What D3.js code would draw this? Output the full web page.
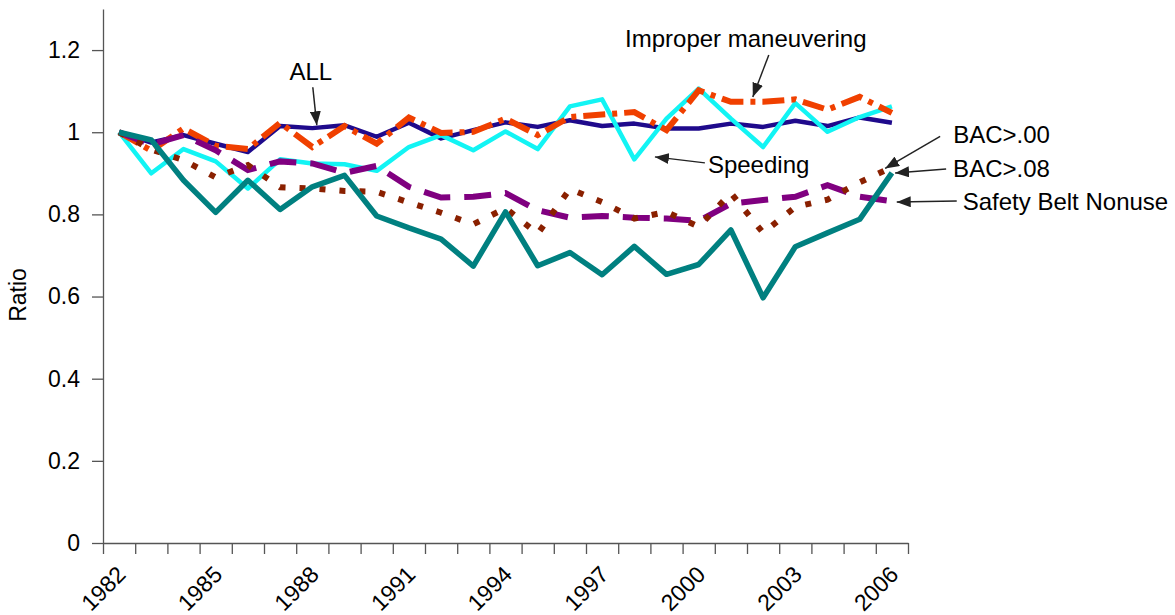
<!DOCTYPE html>
<html>
<head>
<meta charset="utf-8">
<script src="https://cdnjs.cloudflare.com/ajax/libs/d3/7.8.5/d3.min.js"></script>
<style>
  body { margin: 0; background: #fff; }
  text { font-family: "Liberation Sans", Arial, sans-serif; fill: #000; }
</style>
</head>
<body>
<div id="svg"></div>
<script>
// values
const years = [1982, 1983, 1984, 1985, 1986, 1987, 1988, 1989, 1990, 1991, 1992, 1993,
  1994, 1995, 1996, 1997, 1998, 1999, 2000, 2001, 2002, 2003, 2004, 2005, 2006];
const yearLabels = [1982, 1985, 1988, 1991, 1994, 1997, 2000, 2003, 2006];
const ratioTicks = [0, 0.2, 0.4, 0.6, 0.8, 1, 1.2];

const allRatio = [1.000, 0.975, 0.993, 0.972, 0.952, 1.015, 1.010, 1.017, 0.989, 1.023, 0.985, 1.005,
  1.024, 1.013, 1.029, 1.015, 1.021, 1.009, 1.009, 1.021, 1.013, 1.028, 1.015, 1.036, 1.023];
const improper = [1.000, 0.955, 1.009, 0.967, 0.959, 1.023, 0.964, 1.015, 0.972, 1.036, 0.998, 1.001,
  1.033, 0.993, 1.037, 1.043, 1.049, 1.005, 1.102, 1.074, 1.074, 1.080, 1.055, 1.086, 1.047];
const speeding = [1.000, 0.900, 0.959, 0.929, 0.863, 0.934, 0.924, 0.922, 0.906, 0.964, 0.993, 0.956,
  1.002, 0.959, 1.063, 1.080, 0.934, 1.033, 1.106, 1.033, 0.964, 1.071, 1.001, 1.037, 1.063];
const safetyBelt = [1.000, 0.970, 0.993, 0.956, 0.908, 0.929, 0.924, 0.901, 0.918, 0.867, 0.841, 0.843,
  0.852, 0.810, 0.792, 0.796, 0.792, 0.790, 0.784, 0.826, 0.835, 0.843, 0.871, 0.843, 0.832];
const bac08 = [1.000, 0.958, 0.932, 0.890, 0.920, 0.866, 0.863, 0.857, 0.855, 0.829, 0.804, 0.776,
  0.815, 0.753, 0.862, 0.830, 0.790, 0.806, 0.770, 0.852, 0.755, 0.818, 0.836, 0.878, 0.915];
const bac00 = [1.000, 0.981, 0.883, 0.805, 0.883, 0.812, 0.867, 0.895, 0.796, 0.767, 0.740, 0.674,
  0.806, 0.675, 0.707, 0.653, 0.722, 0.654, 0.678, 0.762, 0.597, 0.721, 0.755, 0.788, 0.901];

const width = 1175,
      height = 615;

const svg = d3.select("#svg")
  .append("svg")
    .attr("width", width)
    .attr("height", height);

const x = d3.scaleBand()
    .domain(years)
    .range([103, 908]);

// continuous year -> pixel (band centres), used for ticks and arrows
const xc = d3.scaleLinear()
    .domain([years[0] - 0.5, years[years.length - 1] + 0.5])
    .range([103, 908]);

const y = d3.scaleLinear()
    .domain([0, 1.3])
    .range([543, 9]);

const series = [
  { name: "ALL", values: allRatio, color: "#1f0a8c", width: 4.5, dash: null },
  { name: "Speeding", values: speeding, color: "#12f4f4", width: 4.5, dash: null },
  { name: "Improper maneuvering", values: improper, color: "#f04000", width: 6, dash: "22,7,5,7" },
  { name: "Safety Belt Nonuse", values: safetyBelt, color: "#800080", width: 6, dash: "27,14" },
  { name: "BAC>.08", values: bac08, color: "#8a2000", width: 6, dash: "6,14" },
  { name: "BAC>.00", values: bac00, color: "#008080", width: 5.5, dash: null }
];

// axes
const axisColor = "#555";

const yAxis = svg.append("g")
    .attr("transform", `translate(${x.range()[0]},0)`)
    .call(d3.axisLeft(y)
      .tickValues(ratioTicks)
      .tickFormat(d => d)
      .tickSize(11)
      .tickSizeOuter(0)
      .tickPadding(12));

const xAxis = svg.append("g")
    .attr("transform", `translate(0,${y(0)})`)
    .call(d3.axisBottom(xc)
      .tickValues(years.map(d => d - 0.5).concat([years[years.length - 1] + 0.5]))
      .tickFormat("")
      .tickSize(11)
      .tickSizeOuter(0));

[xAxis, yAxis].forEach(a => {
  a.attr("font-family", null).attr("font-size", null);
  a.selectAll("path, line").attr("stroke", axisColor).attr("stroke-width", 1.3);
});
yAxis.selectAll("text").style("font-size", "23px");

svg.append("g")
  .selectAll("text")
  .data(yearLabels)
  .enter()
  .append("text")
    .attr("transform", d => `translate(${x(d) + x.bandwidth() / 2 + 8},576) rotate(-45)`)
    .attr("text-anchor", "end")
    .style("font-size", "23px")
    .text(d => d);

svg.append("text")
    .attr("transform", "translate(26,295) rotate(-90)")
    .attr("text-anchor", "middle")
    .style("font-size", "23px")
    .text("Ratio");

// lines
const line = d3.line()
    .x((d, i) => x(years[i]) + x.bandwidth() / 2)
    .y(d => y(d));

svg.append("g")
  .selectAll("path")
  .data(series)
  .enter()
  .append("path")
    .attr("fill", "none")
    .attr("stroke", d => d.color)
    .attr("stroke-width", d => d.width)
    .attr("stroke-dasharray", d => d.dash)
    .attr("stroke-linejoin", d => d.dash ? "miter" : "round")
    .attr("d", d => line(d.values));

// annotations: arrow tip in data space, tail and text offsets in pixels
const notes = [
  { text: "ALL", year: 1988.14, value: 1.017, tail: [-4, -38], pos: [-6, -45], anchor: "middle" },
  { text: "Improper maneuvering", year: 2001.68, value: 1.086, tail: [16, -42], pos: [-7, -50], anchor: "middle" },
  { text: "Speeding", year: 1998.64, value: 0.940, tail: [50, 6], pos: [53, 16], anchor: "start" },
  { text: "BAC>.00", year: 2005.79, value: 0.912, tail: [55, -32], pos: [68, -25], anchor: "start" },
  { text: "BAC>.08", year: 2006.10, value: 0.901, tail: [51, -4], pos: [58, 4], anchor: "start" },
  { text: "Safety Belt Nonuse", year: 2006.15, value: 0.830, tail: [60, -1], pos: [66, 8], anchor: "start" }
];

svg.append("defs")
  .append("marker")
    .attr("id", "arrow")
    .attr("markerUnits", "userSpaceOnUse")
    .attr("viewBox", "0 0 14 11")
    .attr("markerWidth", 14)
    .attr("markerHeight", 11)
    .attr("refX", 14)
    .attr("refY", 5.5)
    .attr("orient", "auto")
  .append("path")
    .attr("d", "M0,0L14,5.5L0,11Z")
    .attr("fill", "#222");

const note = svg.append("g")
  .selectAll("g")
  .data(notes)
  .enter()
  .append("g")
    .attr("transform", d => `translate(${xc(d.year)},${y(d.value)})`);

note.append("line")
    .attr("x1", d => d.tail[0])
    .attr("y1", d => d.tail[1])
    .attr("x2", 0)
    .attr("y2", 0)
    .attr("stroke", "#222")
    .attr("stroke-width", 1.5)
    .attr("marker-end", "url(#arrow)");

note.append("text")
    .attr("x", d => d.pos[0])
    .attr("y", d => d.pos[1])
    .attr("text-anchor", d => d.anchor)
    .style("font-size", "24px")
    .text(d => d.text);
</script>
</body>
</html>
